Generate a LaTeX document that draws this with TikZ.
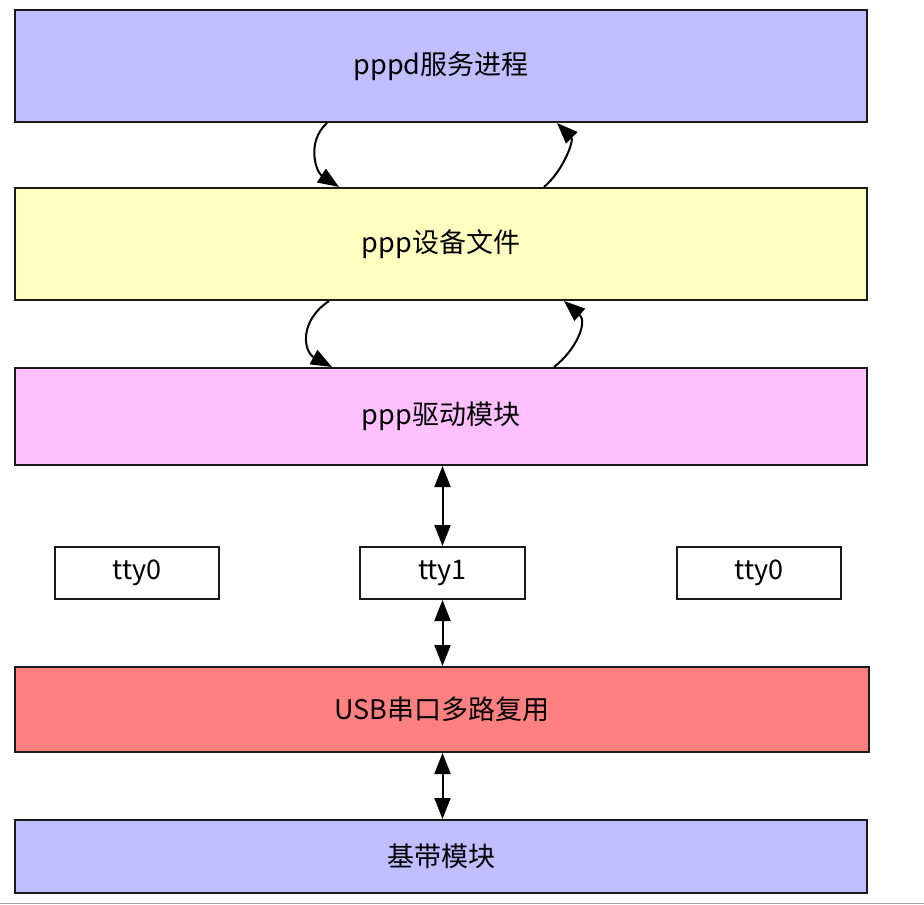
\documentclass[tikz,border=0pt]{standalone}
\usepackage{fontspec}
\setmainfont{Noto Sans CJK SC}
\usetikzlibrary{arrows.meta}
\definecolor{cblue}{HTML}{BFBFFF}
\definecolor{cyel}{HTML}{FFFFC0}
\definecolor{cpink}{HTML}{FFC0FF}
\definecolor{cred}{HTML}{FF8080}
\definecolor{cline}{HTML}{1A1A1A}
\tikzset{
  layer/.style={draw=cline, line width=2pt, rectangle, inner sep=0pt,
    font=\fontsize{27}{32}\selectfont},
  ttybox/.style={draw=cline, line width=2pt, fill=white, rectangle, inner sep=0pt,
    minimum width=164pt, minimum height=52pt, font=\fontsize{27}{32}\selectfont},
  conn/.style={line width=2pt, draw=black},
  tip/.style={-{Triangle[length=21pt,width=16pt]}},
  dtip/.style={{Triangle[length=21pt,width=16pt]}-{Triangle[length=21pt,width=16pt]}},
}
\begin{document}
\begin{tikzpicture}[x=1pt,y=-1pt]
\useasboundingbox (0,0) rectangle (924,905);
\fill[white] (0,0) rectangle (924,905);
\draw[gray!70, line width=1pt] (0,903) -- (924,903);

\node[layer, fill=cblue, minimum width=852pt, minimum height=112pt] (pppd) at (441,66) {pppd服务进程};
\node[layer, fill=cyel, minimum width=852pt, minimum height=112pt] (dev) at (441,244) {ppp设备文件};
\node[layer, fill=cpink, minimum width=852pt, minimum height=97pt] (drv) at (441,416.5) {ppp驱动模块};
\node[ttybox] (ttya) at (137,573) {tty0};
\node[ttybox, minimum width=165pt] (tty1) at (442.5,573) {tty1};
\node[ttybox] (ttyb) at (759,573) {tty0};
\node[layer, fill=cred, minimum width=854pt, minimum height=85pt] (usb) at (442,709.5) {USB串口多路复用};
\node[layer, fill=cblue, minimum width=852pt, minimum height=73pt] (bb) at (441,856.5) {基带模块};

% curved arrows between pppd and dev
\draw[conn, tip] ([xshift=313pt]pppd.south west) .. controls (306,142) and (316,172) .. ([xshift=325pt]dev.north west);
\draw[conn, tip] ([xshift=530pt]dev.north west) .. controls (564,170) and (574,140) .. ([xshift=543pt]pppd.south west);
% curved arrows between dev and drv
\draw[conn, tip] ([xshift=315pt]dev.south west) .. controls (298,322) and (304,352) .. ([xshift=318pt]drv.north west);
\draw[conn, tip] ([xshift=540pt]drv.north west) .. controls (576,350) and (588,322) .. ([xshift=550pt]dev.south west);

% straight double arrows
\draw[conn, dtip] (drv.south -| tty1.north) -- (tty1.north);
\draw[conn, dtip] (tty1.south) -- (tty1.south |- usb.north);
\draw[conn, dtip] (usb.south -| tty1) -- (bb.north -| tty1);
\end{tikzpicture}
\end{document}
